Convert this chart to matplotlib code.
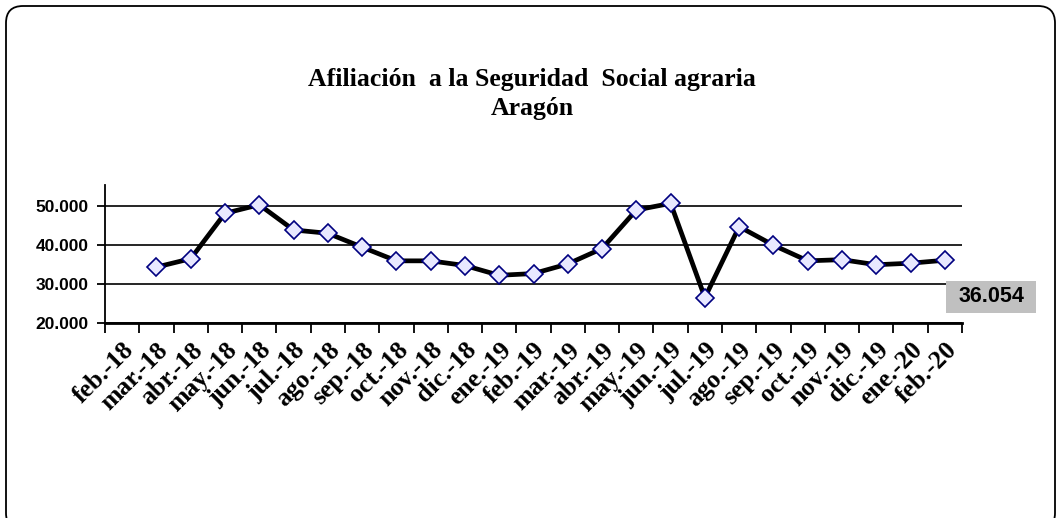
import matplotlib

matplotlib.use("Agg")
import matplotlib.pyplot as plt
from matplotlib.patches import FancyBboxPatch, Rectangle
import numpy as np

# Data: monthly agrarian Social Security affiliation, Aragón
months = [
    "feb.-18", "mar.-18", "abr.-18", "may.-18", "jun.-18", "jul.-18", "ago.-18",
    "sep.-18", "oct.-18", "nov.-18", "dic.-18", "ene.-19", "feb.-19", "mar.-19",
    "abr.-19", "may.-19", "jun.-19", "jul.-19", "ago.-19", "sep.-19", "oct.-19",
    "nov.-19", "dic.-19", "ene.-20", "feb.-20",
]
# feb.-18 has no value
affiliates = [
    np.nan, 34300, 36450, 48050, 50250, 43800, 42950, 39400, 35900, 35900,
    34700, 32200, 32650, 35100, 39050, 48900, 50600, 26500, 44650, 39900,
    35900, 36200, 34900, 35300, 36054,
]
last_label = "36.054"

W, H = 1061, 518
fig = plt.figure(figsize=(W / 100, H / 100), dpi=100)

# rounded outer frame (bottom edge runs off the picture)
frame = FancyBboxPatch(
    (6 / W, -12 / H), (1049 / W), ((H - 6 + 12) / H),
    boxstyle="round,pad=0,rounding_size=0.016",
    transform=fig.transFigure, facecolor="none", edgecolor="black",
    linewidth=1.3, mutation_aspect=W / H, zorder=5,
)
fig.patches.append(frame)

ax = fig.add_axes([105 / W, (H - 323) / H, 857 / W, (323 - 185) / H])
ax.set_facecolor("none")

x = np.arange(len(months)) + 0.5
ax.plot(x, affiliates, color="black", linewidth=3.4, zorder=3,
        marker="D", markersize=9, markerfacecolor="#E8E8FF",
        markeredgecolor="#000080", markeredgewidth=1.2)

ax.set_xlim(0, len(months))
ax.set_ylim(20000, 55300)
ax.set_yticks([20000, 30000, 40000, 50000])
ax.set_yticklabels(["20.000", "30.000", "40.000", "50.000"],
                   fontfamily="Liberation Sans", fontweight="bold", fontsize=12.5)
ax.yaxis.grid(True, color="black", linewidth=1.2)
ax.set_axisbelow(True)

ax.set_xticks(np.arange(len(months) + 1))
ax.set_xticklabels([""] * (len(months) + 1))
ax.set_xticks(x, minor=True)
ax.set_xticklabels(months, minor=True, rotation=45, ha="right", va="top",
                   rotation_mode="anchor", fontfamily="Liberation Serif",
                   fontweight="bold", fontsize=18.5)
ax.tick_params(axis="x", which="minor", length=0, pad=11)
ax.tick_params(axis="x", which="major", length=7, width=1.3, direction="out")
ax.tick_params(axis="y", length=6, width=1.3, direction="out", pad=6)

for side in ["top", "right"]:
    ax.spines[side].set_visible(False)
ax.spines["left"].set_linewidth(1.3)
ax.spines["bottom"].set_linewidth(2)

fig.text(532 / W, 1 - 94 / H, "Afiliación  a la Seguridad  Social agraria\nAragón",
         ha="center", va="center", fontfamily="Liberation Serif",
         fontweight="bold", fontsize=18.5, linespacing=1.3)

# value box for the last point
fig.patches.append(Rectangle((946 / W, 1 - 313 / H), 90 / W, 32 / H,
                             transform=fig.transFigure, facecolor="#C0C0C0",
                             edgecolor="none", zorder=1))
fig.text(991 / W, 1 - 297 / H, last_label, ha="center", va="center",
         fontfamily="Liberation Sans", fontweight="bold", fontsize=15.5,
         zorder=2)

fig.savefig("out.png", dpi=100)
